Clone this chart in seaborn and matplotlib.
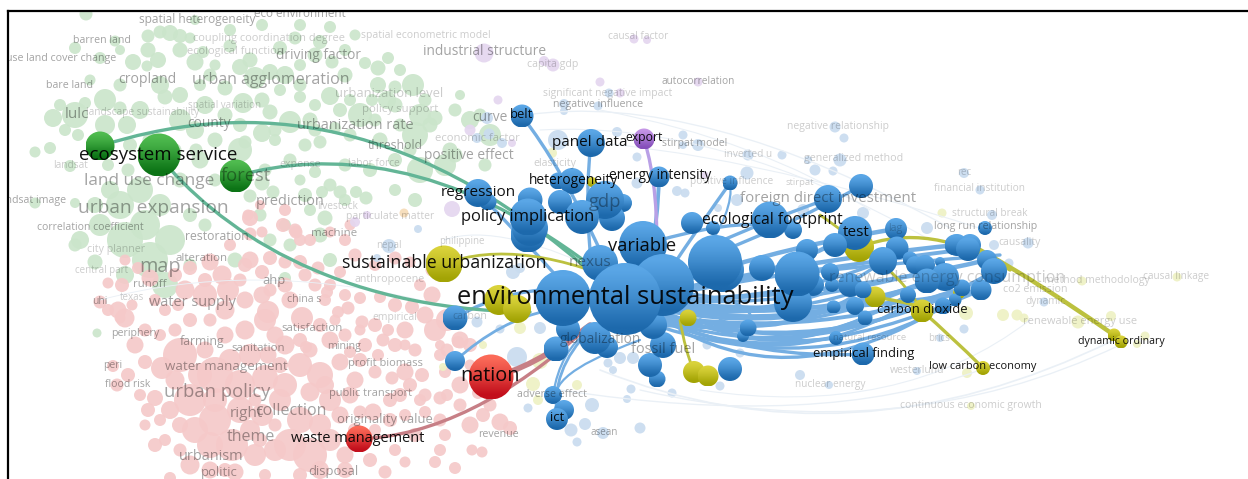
import numpy as np
import pandas as pd
import matplotlib
matplotlib.use("Agg")
import matplotlib.pyplot as plt
from matplotlib.patches import Circle, PathPatch
from matplotlib.path import Path
import seaborn as sns

# faded nodes: (x, y, diameter)
green_nodes = [(86,14,13),(160,32,13),(170,33,16),(180,36,14),(148,36,13),(75,48,12),(115,41,11),(148,50,15),(190,38,11),(147,66,11),
    (158,60,16),(180,50,15),(195,62,17),(215,65,11),(240,67,16),(203,52,12),(230,46,13),(250,60,15),(262,25,12),(300,25,12),
    (330,27,12),(320,42,14),(315,55,15),(345,50,12),(365,63,12),(388,58,12),(378,68,15),(270,72,16),(255,78,22),(285,75,18),
    (300,85,13),(330,96,18),(345,75,15),(332,62,13),(378,85,16),(395,87,13),(413,85,22),(387,100,18),(360,115,24),(350,100,12),
    (315,105,12),(300,97,12),(280,90,12),(262,100,15),(243,103,20),(225,88,15),(200,85,12),(180,95,16),(165,97,15),(160,85,18),
    (133,62,16),(120,50,10),(100,58,12),(53,118,18),(75,115,26),(105,125,20),(127,125,18),(140,110,18),(105,100,22),(85,103,12),
    (60,105,12),(35,152,11),(50,148,12),(78,135,12),(120,108,13),(195,130,18),(225,115,15),(262,133,18),(275,130,13),(290,122,22),
    (315,130,13),(335,128,12),(350,135,13),(380,140,15),(415,135,26),(430,125,15),(400,125,13),(375,120,13),(245,142,13),(275,140,12),
    (305,145,13),(320,142,13),(290,160,13),(240,150,24),(215,140,15),(200,160,17),(180,180,15),(196,150,13),(265,170,13),(330,185,13),
    (305,195,14),(322,192,12),(340,192,13),(356,192,12),(366,198,13),(395,190,12),(415,200,14),(262,183,15),(273,192,13),(250,196,13),
    (260,215,13),(285,225,12),(310,210,12),(325,218,15),(345,200,12),(70,166,12),(35,203,11),(75,203,10),(140,190,26),(120,205,28),
    (100,225,22),(80,240,18),(128,170,13),(145,225,30),(125,240,36),(170,240,30),(150,260,36),(165,285,26),(125,275,18),(95,262,15),
    (75,245,13),(190,265,13),(235,260,15),(270,240,13),(290,245,13),(320,235,15),(330,260,14),(285,278,12),(97,333,9),(450,150,15),
    (420,170,26),(445,165,22),(455,155,15),(490,135,22),(470,120,18),(480,115,13),(460,95,10),(425,100,13),(420,115,22),(435,118,15),
    (455,110,13),(485,165,13),(395,105,15),(372,100,12),(180,120,22),(205,105,18),(150,140,15),(175,150,13),(215,180,13),(300,65,12),
    (110,190,18),(95,205,16),(160,205,22),(190,215,14),(205,225,13),(130,145,14),(108,165,12),(270,112,15),(240,125,14),(310,120,15),
    (340,110,14),(210,75,13),(230,30,12),(195,20,10),(280,48,14),(295,38,13),(355,35,11),(400,70,12),(120,85,13),(90,80,11),
    (65,130,12),(95,145,11),(370,170,14),(395,160,14),(410,150,13),(345,165,13),(315,172,12),(300,180,11)]
red_nodes = [(250,218,16),(283,225,14),(296,232,13),(262,232,11),(250,234,13),(300,240,12),(330,232,11),(310,240,12),(250,260,17),(270,258,14),
    (222,275,19),(240,280,13),(262,272,14),(285,262,13),(300,262,14),(318,268,13),(340,272,12),(125,260,11),(138,268,12),(122,285,14),
    (108,283,11),(100,302,13),(118,310,17),(125,318,19),(108,310,12),(150,278,17),(175,275,14),(190,268,14),(210,262,17),(185,290,19),
    (205,295,24),(228,290,22),(225,310,19),(245,300,17),(262,295,17),(268,312,22),(290,300,17),(302,318,22),(325,300,12),(327,292,12),
    (345,295,12),(338,312,12),(348,308,13),(360,298,12),(380,297,12),(395,305,14),(412,307,14),(425,315,17),(435,330,22),(447,320,22),
    (460,340,17),(470,345,14),(432,295,17),(405,330,17),(395,345,14),(383,340,13),(365,345,14),(330,340,17),(345,335,13),(306,347,12),
    (135,345,17),(145,362,14),(113,366,12),(128,375,14),(117,385,13),(140,395,12),(155,398,16),(148,410,14),(160,420,12),(145,425,11),
    (155,445,14),(165,440,12),(180,355,34),(162,368,22),(175,380,19),(205,350,17),(225,335,17),(245,330,19),(265,320,22),(275,335,17),
    (250,355,22),(268,355,17),(285,345,19),(300,365,24),(320,375,26),(340,362,17),(355,380,17),(375,372,13),(392,378,13),(405,372,17),
    (422,375,14),(445,372,12),(460,385,17),(478,393,12),(440,398,13),(410,385,14),(390,400,14),(373,412,17),(350,395,17),(330,400,22),
    (310,392,19),(285,385,24),(300,420,26),(320,425,22),(340,415,17),(360,412,13),(390,420,14),(405,415,12),(425,412,12),(440,420,13),
    (190,400,32),(215,375,36),(240,385,30),(265,378,26),(280,400,22),(195,430,26),(215,420,32),(240,410,26),(262,415,22),(210,445,26),
    (232,445,32),(255,455,22),(180,450,13),(190,465,19),(210,470,17),(235,472,17),(260,440,14),(290,445,32),(310,455,34),(330,440,22),
    (345,455,17),(370,460,14),(395,450,12),(415,435,14),(445,435,12),(470,425,17),(483,415,14),(500,422,17),(510,428,14),(472,450,11),
    (440,450,12),(435,462,12),(455,468,12),(482,452,11),(300,475,14),(265,475,12),(170,478,12),(385,472,13),(458,342,12),
    (447,350,13),(490,405,13),(447,395,12),(420,400,12),(405,345,11),(415,350,13),(440,355,12),(362,322,13),(375,325,14),(388,330,12),
    (360,330,11),(315,285,13),(305,275,13),(335,320,11),(350,352,12),(145,330,13),(160,335,12),(175,330,13),(190,320,14),(210,320,13),
    (120,318,11),(132,305,11),(155,300,12),(178,305,12),(420,285,12),(395,258,13),(345,240,12),(355,255,13),(375,265,12),(350,225,11),
    (285,210,12),(295,230,13),(248,215,11),(260,205,10),(410,262,11),(432,270,13),(440,345,10),(470,365,11),(255,400,13),(275,425,13),
    (200,375,24),(230,360,22),(170,410,18),(180,425,16),(215,400,24),(250,430,20),(275,450,22),(325,385,18),(360,360,14),(378,355,12),
    (300,340,14),(320,325,14),(245,265,14),(230,245,12),(205,280,14),(165,310,12),(225,470,14),(345,470,16),(320,470,18),(355,430,14),
    (280,365,16),(310,350,15),(400,395,14),(425,395,13),(460,405,13),(375,430,12),(405,462,11),(285,285,15),(270,290,13),(330,285,12)]
blue_pale = [(609,93,9),(598,106,9),(564,104,10),(564,111,8),(617,132,10),(683,135,9),(683,145,8),(698,145,12),(748,155,11),(782,155,9),
    (637,157,9),(747,173,13),(808,160,8),(815,170,11),(833,171,9),(835,127,11),(844,138,9),(840,160,13),(964,173,10),(980,190,9),
    (992,215,10),(927,228,12),(1028,243,11),(994,245,10),(1009,263,9),(1044,302,9),(964,329,9),(940,338,8),(917,371,8),(800,375,10),
    (829,385,8),(672,393,9),(631,389,9),(627,399,8),(592,405,14),(585,424,12),(571,430,13),(577,442,9),(603,433,12),(640,428,11),
    (528,408,9),(517,357,20),(477,322,11),(500,329,9),(540,328,12),(608,363,9),(613,370,8),(620,358,12),(633,358,12),(720,386,9),
    (740,353,9),(707,345,9),(513,272,14),(520,268,10),(558,140,20),(502,143,10),(637,183,11),(677,191,10),(685,193,9),(737,200,12),
    (803,210,12),(718,208,8),(863,213,12),(418,229,8),(489,134,11),(389,246,14),(377,258,8),(487,118,12),(477,138,10)]
yellow_pale = [(552,153,10),(1003,315,12),(1017,315,11),(1024,318,9),(1078,322,13),(1082,281,9),(1111,316,10),(1145,336,9),(1137,344,8),(1177,277,9),
    (967,373,10),(966,313,14),(971,406,8),(942,213,9),(533,384,14),(540,361,16),(520,328,12),(443,367,8),(483,345,8),(538,400,10),(577,385,10)]
purple_pale = [(484,53,19),(544,61,10),(553,65,13),(600,82,9),(634,39,9),(647,40,8),(698,82,9),(620,93,9),(498,100,9),(470,130,11),
    (512,143,8),(452,209,16),(705,175,7),(355,222,10),(367,215,8)]
orange_pale = [(404,213,9)]

# highlighted nodes, drawn back to front
green_bright = [(100,146,29),(159,155,43),(236,176,33)]
red_bright = [(491,377,45),(359,439,27)]
yellow_bright = [(859,247,30),(592,182,10),(444,264,37),(499,300,30),(517,309,28),(688,318,17),(694,372,22),(708,376,21),
    (875,297,21),(922,311,23),(959,293,12),(983,368,14),(1114,335,13),(1121,342,13)]
purple_bright = [(644,139,21)]
blue_bright = [(522,116,23),(591,143,28),(659,177,21),(730,183,15),(558,181,17),(572,181,26),(488,202,17),(478,193,28),(530,200,25),(528,235,35),
    (530,228,36),(528,217,37),(560,202,24),(623,203,18),(612,218,26),(605,200,38),(582,217,34),(713,228,14),(692,223,22),(793,230,18),
    (770,220,37),(828,199,28),(861,186,24),(985,228,14),(957,245,22),(970,245,22),(896,229,22),(855,233,34),(835,245,24),(897,248,23),
    (910,259,15),(883,261,28),(915,265,18),(925,265,20),(832,270,12),(850,285,24),(832,285,14),(863,290,17),(834,307,13),(855,306,18),
    (865,318,15),(908,295,16),(955,300,13),(943,306,17),(962,288,17),(981,290,21),(955,245,21),(968,249,24),(987,260,20),(994,271,26),
    (940,262,10),(945,277,28),(927,281,25),(836,338,14),(863,354,23),(455,318,25),(455,361,20),(556,349,25),(568,329,24),(607,347,22),
    (595,338,32),(657,379,17),(650,365,24),(663,345,26),(730,369,24),(553,395,18),(564,410,20),(557,419,22),(743,336,12),(748,328,17),
    (833,307,13),(807,250,22),(762,268,26),(830,272,18),(813,285,22),(653,325,28),(793,303,38),(600,263,36),(643,245,48),(722,270,44),
    (797,274,45),(715,262,54),(663,285,62),(563,298,56),(625,299,72)]

# links: start, control, end, width
blue_links = [(522,116,560,165,600,250,3),(591,143,585,190,590,250,3),(659,177,658,220,650,260,3.5),(730,183,700,225,670,270,3),(478,193,520,235,560,280,3),
    (455,318,510,285,575,290,3),(455,361,500,320,550,310,2.5),(557,419,550,370,590,330,2.5),(553,395,560,350,590,330,2),(564,410,530,380,640,340,2),
    (630,300,760,285,855,233,4),(630,300,760,250,896,229,4),(630,300,800,260,957,245,4),(630,300,800,270,968,249,3.5),(630,300,820,300,987,260,4),
    (630,300,830,320,981,290,4),(630,300,800,330,945,277,4),(630,300,780,340,927,281,3.5),(630,310,800,345,962,288,3.5),(630,310,830,370,994,271,3.5),
    (640,320,820,385,955,300,3),(680,330,800,395,943,306,3),(660,300,790,300,883,261,3),(660,300,760,300,850,285,3),(660,310,770,320,863,290,3),
    (660,310,760,330,855,306,3),(700,320,790,350,865,318,3),(700,320,780,370,908,295,3),(660,310,750,350,836,338,3),(660,320,760,360,863,354,3),
    (700,250,780,215,828,199,3),(700,260,790,225,861,186,3),(730,183,735,210,700,260,2),(660,240,750,215,792,230,3),(640,290,770,295,748,328,2.5),
    (650,315,790,345,927,281,3),(650,305,800,325,883,261,3),(660,320,800,365,940,295,3),(650,300,810,310,945,265,3),(660,325,780,335,834,307,3),
    (640,310,770,385,981,290,3),(690,330,800,372,915,300,2.5),(720,320,780,340,855,295,2.5),(670,290,800,270,1000,255,3)]
green_links = [(100,146,230,105,400,100,600,280,3),(236,176,330,150,450,160,590,265,3),(159,156,215,225,330,310,530,312,3)]
olive_links = [(922,311,950,335,983,368,3),(875,297,925,305,922,311,3),(980,250,1035,280,1114,335,4),(444,264,520,235,640,290,2.5),(680,320,685,350,694,372,2.5),(820,215,900,270,922,311,2.5),(860,247,930,220,1010,270,3)]
red_links = [(359,439,470,435,590,325,3),(491,377,530,370,590,325,5)]
purple_links = [(644,139,660,190,656,270,3)]
pale_links = [(600,370,850,470,1114,340,1.5),(640,390,900,450,1120,345,1.2),(560,390,820,430,980,370,1.2),(700,390,900,420,1030,320,1),
    (525,115,700,90,950,228,1.2),(540,130,720,120,930,240,1),(560,140,740,150,985,230,1),(600,110,760,140,870,210,1),(444,240,500,220,620,280,1),(100,300,250,260,420,300,0.8)]

# labels: text, x, y, font size
dark_labels = [("ecosystem service",158,155,12.3),("regression",478,193,10),("policy implication",528,217,10.8),("sustainable urbanization",444,263,11.6),
    ("belt",522,115,8.5),("panel data",590,143,10),("export",644,138,8),("heterogeneity",573,181,9),("energy intensity",660,176,9),("variable",642,246,12),
    ("ecological footprint",772,220,10.2),("test",856,233,10),("environmental sustainability",625,298,16.7),("carbon dioxide",922,310,8.5),
    ("empirical finding",864,354,8.5),("low carbon economy",983,367,7.2),("dynamic ordinary",1121,342,7),("nation",490,376,13),("waste management",358,439,9.5),("ict",557,418,8.5)]
mid_labels = [("spatial heterogeneity",197,20,7.8),("eco environment",300,14,7.6),("barren land",102,41,7),("use land cover change",61,59,7),("bare land",70,86,7),
    ("cropland",147,80,9.2),("urban agglomeration",271,80,10.5),("driving factor",318,56,9),("industrial structure",485,52,9),("lulc",77,115,10),("county",209,124,9),
    ("urbanization rate",355,126,9.5),("threshold",395,146,8),("positive effect",469,156,9),("land use change",149,181,11.2),("urban expansion",153,208,12.5),
    ("landsat image",32,201,7),("correlation coefficient",90,228,6.8),("prediction",290,202,9.5),("machine",334,234,7.5),("restoration",217,237,8),
    ("forest",246,176,12),("gdp",605,202,12),("foreign direct investment",828,199,9.8),("nexus",590,263,10),("globalization",600,340,9),("fossil fuel",663,350,9.5),
    ("negative influence",598,105,7),("autocorrelation",698,82,6.6),("stirpat model",695,144,6.8),("long run relationship",986,227,7),("curve",490,118,9),
    ("map",160,267,13),("alteration",202,259,7.5),("runoff",150,285,7.5),("ahp",274,281,8.5),("uhi",100,302,6.8),("water supply",192,303,9.5),("china s",304,300,7),
    ("periphery",135,334,7),("farming",202,342,8),("sanitation",258,349,7.5),("satisfaction",312,329,7.5),("mining",344,347,7),("profit biomass",385,364,7.2),
    ("water management",226,367,8.8),("urban policy",217,392,12),("peri",113,366,6.8),("flood risk",128,385,6.8),("public transport",371,394,7.2),("collection",291,411,10.5),
    ("right",246,414,10),("originality value",385,420,8.5),("theme",251,437,10.5),("urbanism",211,457,9.5),("politic",219,473,8.5),("disposal",333,472,8.5),
    ("revenue",498,435,7),("adverse effect",552,395,7),("asean",604,433,6.5)]
pale_labels = [("coupling coordination degree",269,39,7.2),("ecological function",235,52,7.2),("spatial econometric model",426,36,6.8),("capita gdp",553,65,7),
    ("causal factor",638,37,6.6),("landscape sustainability",143,113,6.6),("spatial variation",225,106,6.4),("urbanization level",389,94,8.5),("policy support",400,110,7.5),
    ("significant negative impact",608,94,6.8),("economic factor",477,139,7.4),("expense",300,165,7),("labor force",374,164,6.6),("landsat",71,166,6.6),
    ("livestock",338,207,6.6),("particulate matter",390,217,6.8),("elasticity",555,164,7),("negative relationship",838,127,6.8),("generalized method",854,159,7),
    ("inverted u",748,155,6.6),("positive influence",732,182,6.6),("stirpat",800,183,6.2),("rec",964,173,6.4),("financial institution",980,189,6.6),("structural break",990,214,6.6),
    ("lag",895,229,7),("philippine",462,242,6.4),("nepal",389,246,6.4),("anthropocene",390,280,7),("carbon",470,317,7),("city planner",116,250,7),("central part",102,271,6.4),
    ("texas",132,298,6.4),("empirical",395,318,6.8),("nuclear energy",830,385,6.6),("westerlund",917,371,6.8),("continuous economic growth",971,406,6.8),("brics",939,339,6.4),
    ("natural resource",870,338,6.2),("method methodology",1097,281,6.8),("causal linkage",1176,277,6.6),("renewable energy use",1080,322,7.2),("dynamic",1045,302,6.6),
    ("causality",1020,243,6.8),("co2 emission",1035,290,7),("renewable energy consumption",947,278,10.5)]

FONT_SCALE = 1.1

pale_colors = {"green": "#cbe5cb", "red": "#f5c9c9", "blue": "#c9dcef", "yellow": "#eef1c4", "purple": "#e4d6ef", "orange": "#f6dcb8"}
# top, bottom of the shaded spheres
sphere = {"green": ("#4fbb4f", "#0c7416"), "red": ("#fb6a58", "#c30f1c"), "yellow": ("#d9d23a", "#a3a405"),
          "purple": ("#c596e6", "#8650bb"), "blue": ("#5aa6e6", "#1d69ac")}


def nodes_frame(nodes, cluster):
    df = pd.DataFrame(nodes, columns=["x", "y", "d"])
    df["cluster"] = cluster
    return df


def draw_link(ax, pts, color, alpha=1.0, zorder=2):
    # quadratic link has 7 values, cubic has 9
    width = pts[-1]
    xy = [(pts[i], pts[i + 1]) for i in range(0, len(pts) - 1, 2)]
    code = Path.CURVE3 if len(xy) == 3 else Path.CURVE4
    path = Path(xy, [Path.MOVETO] + [code] * (len(xy) - 1))
    ax.add_patch(PathPatch(path, fc="none", ec=color, lw=width * 0.8, alpha=alpha, zorder=zorder, capstyle="round"))


def draw_sphere(ax, x, y, d, cluster, zorder):
    top, bottom = [np.array(matplotlib.colors.to_rgb(c)) for c in sphere[cluster]]
    weights = [0, 0.2, 0.45, 0.75, 1.0]
    grad = np.array([top * (1 - w) + bottom * w for w in weights])[:, None, :]
    r = d / 2
    im = ax.imshow(grad, extent=(x - r, x + r, y + r, y - r), origin="upper", aspect="auto", interpolation="bilinear", zorder=zorder)
    im.set_clip_path(Circle((x, y), r, transform=ax.transData))


sns.set_theme(style="white")
plt.rcParams["font.family"] = ["Open Sans", "DejaVu Sans"]

fig = plt.figure(figsize=(12.48, 4.79), dpi=100)
ax = fig.add_axes([8 / 1248, 0, 1240 / 1248, 468 / 479])

# pale background nodes
faded = pd.concat([nodes_frame(green_nodes, "green"), nodes_frame(red_nodes, "red"), nodes_frame(blue_pale, "blue"),
                   nodes_frame(yellow_pale, "yellow"), nodes_frame(purple_pale, "purple"), nodes_frame(orange_pale, "orange")])
faded["s"] = (faded["d"] * 0.72) ** 2
sns.scatterplot(data=faded, x="x", y="y", hue="cluster", palette=pale_colors, s=faded["s"].values, linewidth=0, alpha=0.92, legend=False, ax=ax, zorder=1)

for link in pale_links:
    draw_link(ax, link, "#eaf0f6", zorder=1.5)
for link in blue_links:
    draw_link(ax, link, "#74aee2")
for link in green_links:
    draw_link(ax, link, "#63b596")
for link in olive_links:
    draw_link(ax, link, "#bcc13f")
for link in red_links:
    draw_link(ax, link, "#c77f86")
for link in purple_links:
    draw_link(ax, link, "#b9a0e6")

bright = pd.concat([nodes_frame(green_bright, "green"), nodes_frame(red_bright, "red"), nodes_frame(yellow_bright, "yellow"),
                    nodes_frame(purple_bright, "purple"), nodes_frame(blue_bright, "blue")])
# base marker stays a little smaller so it does not fringe the shaded sphere
bright["s"] = (bright["d"] * 0.72 * 0.9) ** 2
sns.scatterplot(data=bright, x="x", y="y", hue="cluster", palette={k: v[0] for k, v in sphere.items()}, s=bright["s"].values, linewidth=0, legend=False, ax=ax, zorder=2.5)
for i, row in enumerate(bright.itertuples()):
    draw_sphere(ax, row.x, row.y, row.d, row.cluster, 3 + i * 0.01)

for text, x, y, fs in pale_labels:
    ax.text(x, y, text, fontsize=fs * FONT_SCALE, color="#000000", alpha=0.2, ha="center", va="center", zorder=6, clip_on=True)
for text, x, y, fs in mid_labels:
    ax.text(x, y, text, fontsize=fs * FONT_SCALE, color="#000000", alpha=0.36, ha="center", va="center", zorder=6, clip_on=True)
for text, x, y, fs in dark_labels:
    ax.text(x, y, text, fontsize=fs * FONT_SCALE, color="#000000", alpha=0.92, ha="center", va="center", zorder=7, clip_on=True)

ax.set_xlim(8, 1248)
ax.set_ylim(479, 11)
ax.set_xlabel("")
ax.set_ylabel("")
ax.set_xticks([])
ax.set_yticks([])
sns.despine(ax=ax, right=True, bottom=True)
for side in ["left", "top"]:
    ax.spines[side].set_visible(True)
    ax.spines[side].set_color("#000000")
    ax.spines[side].set_linewidth(1.6)

fig.savefig("out.png", dpi=100)
